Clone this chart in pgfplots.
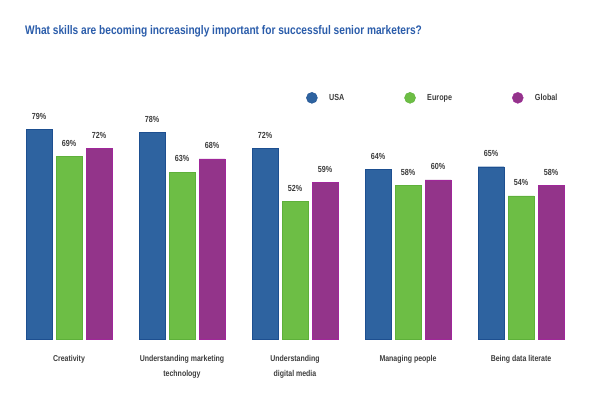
\documentclass[border=0pt]{standalone}
\usepackage{pgfplots}
\pgfplotsset{compat=1.18}
\usepackage{fontspec}
\setmainfont{Liberation Sans}[FakeStretch=0.82]
\definecolor{usa}{HTML}{2E63A0}
\definecolor{usad}{HTML}{1D4F90}
\definecolor{eur}{HTML}{6DBE45}
\definecolor{eurd}{HTML}{5EB03A}
\definecolor{glo}{HTML}{93348A}
\definecolor{glod}{HTML}{A0279A}
\definecolor{titleblue}{HTML}{2A5CAA}
\definecolor{labgray}{HTML}{3C3C3C}
\begin{document}
\begin{tikzpicture}
\begin{axis}[
  scale only axis, width=600pt, height=265pt,
  xmin=0, xmax=600, ymin=0, ymax=100,
  ybar, bar width=26pt,
  clip=false,
  axis line style={draw=none},
  major tick length=0pt,
  ytick=\empty,
  xtick={69,182,295,408,521},
  xticklabels={Creativity, {Understanding marketing\\technology}, {Understanding\\digital media}, Managing people, Being data literate},
  xticklabel style={align=center, font=\bfseries\fontsize{8.5}{14.5}\selectfont, text=labgray, anchor=north, yshift=-13pt},
  nodes near coords={\pgfmathprintnumber[assume math mode=true]{\pgfplotspointmeta}\%},
  nodes near coords style={font=\bfseries\fontsize{8.8}{10}\selectfont, text=labgray, yshift=6.5pt},
  legend style={at={(rel axis cs:0.505,0.91)}, anchor=west, draw=none, fill=none,
    font=\bfseries\fontsize{8.8}{10}\selectfont, text=labgray,
    /tikz/every odd column/.append style={column sep=9.5pt},
    /tikz/every even column/.append style={column sep=58pt}},
  legend columns=3,
  legend image code/.code={\fill[#1] (0pt,0pt) circle (5.5pt);},
]
\addplot[bar shift=-30pt, fill=usa, draw=usad] coordinates {(69,79) (182,78) (295,72) (408,64) (521,65)};
\addplot[bar shift=0pt, fill=eur, draw=eurd] coordinates {(69,69) (182,63) (295,52) (408,58) (521,54)};
\addplot[bar shift=30pt, fill=glo, draw=glod] coordinates {(69,72) (182,68) (295,59) (408,60) (521,58)};
\legend{USA, Europe, Global}
\end{axis}
\node[anchor=base west, font=\bfseries\fontsize{12.4}{14}\selectfont, text=titleblue, inner sep=0pt] at (25pt,304pt) {What skills are becoming increasingly important for successful senior marketers?};
\pgfresetboundingbox
\useasboundingbox (0,-59pt) rectangle (600pt,339pt);
\end{tikzpicture}
\end{document}
